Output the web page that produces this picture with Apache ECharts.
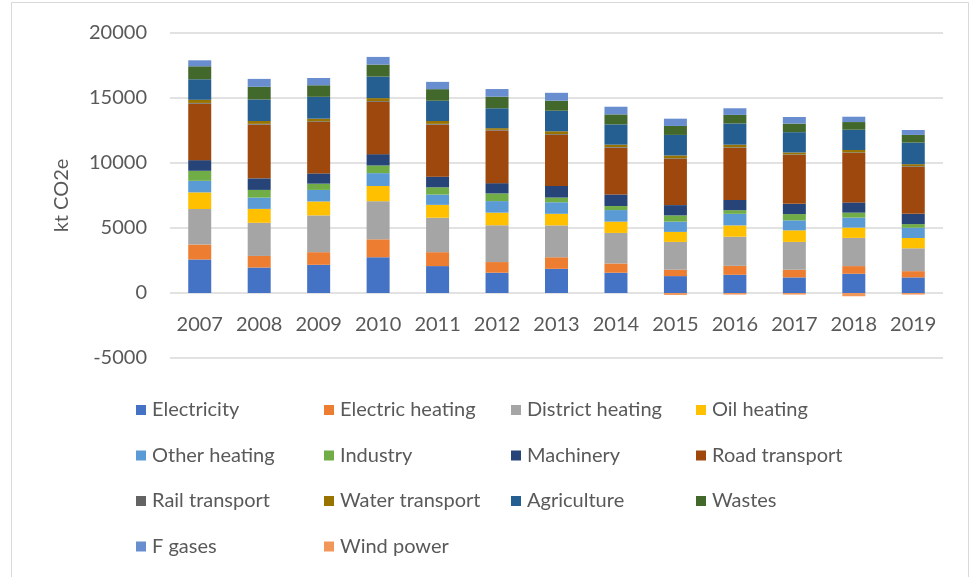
<!DOCTYPE html>
<html>
<head>
<meta charset="utf-8">
<script src="https://cdn.jsdelivr.net/npm/echarts@6/dist/echarts.min.js"></script>
<style>
  html, body { margin: 0; padding: 0; background: #fff; }
  #chart { width: 979px; height: 577px; }
</style>
</head>
<body>
<div id="chart"></div>
<script>
// years on the x axis
var years = ['2007', '2008', '2009', '2010', '2011', '2012', '2013', '2014', '2015', '2016', '2017', '2018', '2019'];

// kt CO2e per sector
var electricity     = [2580, 1960, 2170, 2750, 2070, 1560, 1860, 1560, 1300, 1400, 1200, 1480, 1200];
var electricHeating = [1150,  890,  970, 1380, 1070,  820,  890,  710,  490,  690,  590,  590,  480];
var districtHeating = [2730, 2550, 2830, 2930, 2650, 2830, 2450, 2350, 2140, 2240, 2140, 2170, 1760];
var oilHeating      = [1280, 1070, 1070, 1170,  990,  970,  890,  870,  770,  870,  890,  790,  790];
var otherHeating    = [ 890,  870,  890,  990,  790,  890,  890,  890,  790,  890,  770,  770,  790];
var industry        = [ 770,  590,  480,  590,  560,  590,  360,  310,  480,  280,  480,  380,  280];
var machinery       = [ 820,  890,  790,  870,  820,  790,  890,  890,  790,  790,  790,  790,  790];
var roadTransport   = [4340, 4130, 3950, 4030, 4000, 4050, 3930, 3600, 3540, 4000, 3750, 3800, 3620];
var railTransport   = [  60,   60,   60,   60,   60,   50,   60,   50,   60,   50,   50,   50,   50];
var waterTransport  = [ 240,  220,  200,  220,  220,  130,  220,  180,  220,  200,  150,  180,  150];
var agriculture     = [1580, 1660, 1680, 1660, 1560, 1530, 1580, 1560, 1580, 1630, 1560, 1560, 1660];
var wastes          = [1000,  970,  890,  920,  890,  890,  770,  770,  690,  660,  660,  590,  590];
var fGases          = [ 460,  610,  560,  590,  560,  590,  610,  590,  560,  510,  510,  410,  380];
var windPower       = [   0,    0,    0,    0,    0,    0,    0,    0, -150, -120, -120, -250, -120];

var yTicks = [-5000, 0, 5000, 10000, 15000, 20000];

var sectors = [
    ['Electricity', electricity, '#4472C4'],
    ['Electric heating', electricHeating, '#ED7D31'],
    ['District heating', districtHeating, '#A5A5A5'],
    ['Oil heating', oilHeating, '#FFC000'],
    ['Other heating', otherHeating, '#5B9BD5'],
    ['Industry', industry, '#70AD47'],
    ['Machinery', machinery, '#264478'],
    ['Road transport', roadTransport, '#9E480E'],
    ['Rail transport', railTransport, '#636363'],
    ['Water transport', waterTransport, '#997300'],
    ['Agriculture', agriculture, '#255E91'],
    ['Wastes', wastes, '#43682B'],
    ['F gases', fGases, '#698ED0'],
    ['Wind power', windPower, '#F1975A']
];

var font = 'Lato, "Open Sans", sans-serif';
var textGrey = '#595959';

var series = sectors.map(function (s) {
    return {
        name: s[0],
        type: 'bar',
        stack: 'total',
        barWidth: 23,
        data: s[1],
        itemStyle: { color: s[2] }
    };
});

// legend laid out in four columns like the original
var legendCols = [
    ['Electricity', 'Other heating', 'Rail transport', 'F gases'],
    ['Electric heating', 'Industry', 'Water transport', 'Wind power'],
    ['District heating', 'Machinery', 'Agriculture'],
    ['Oil heating', 'Road transport', 'Wastes']
];
var legendLeft = [131, 319, 506, 691];

var legends = legendCols.map(function (col, i) {
    return {
        orient: 'vertical',
        left: legendLeft[i],
        top: 395,
        itemWidth: 10,
        itemHeight: 10,
        itemGap: 25.5,
        icon: 'rect',
        selectedMode: false,
        data: col,
        textStyle: {
            color: textGrey,
            fontFamily: font,
            fontSize: 20,
            lineHeight: 20,
            padding: [0, 0, 0, 1]
        }
    };
});

var chart = echarts.init(document.getElementById('chart'));

chart.setOption({
    animation: false,
    backgroundColor: '#fff',
    graphic: [{
        type: 'rect',
        shape: { x: 11.5, y: 2.5, width: 957, height: 580 },
        style: { fill: 'none', stroke: '#d9d9d9', lineWidth: 1 },
        silent: true
    }],
    legend: legends,
    grid: { left: 170, right: 36, top: 33, bottom: 219 },
    xAxis: {
        type: 'category',
        data: years,
        // sit the year labels just under the zero line
        offset: -65,
        axisTick: { show: false },
        axisLine: { show: false },
        axisLabel: { color: textGrey, fontFamily: font, fontSize: 20, margin: 22, interval: 0 }
    },
    yAxis: {
        type: 'value',
        min: yTicks[0],
        max: yTicks[yTicks.length - 1],
        interval: 5000,
        name: 'kt CO2e',
        nameLocation: 'middle',
        nameRotate: 90,
        nameGap: 98,
        nameTextStyle: { color: textGrey, fontFamily: font, fontSize: 20 },
        axisLabel: {
            color: textGrey, fontFamily: font, fontSize: 20, margin: 23,
            formatter: function (v) { return String(v); }
        },
        splitLine: { lineStyle: { color: '#d9d9d9', width: 1.5 } }
    },
    series: series
});
</script>
</body>
</html>
